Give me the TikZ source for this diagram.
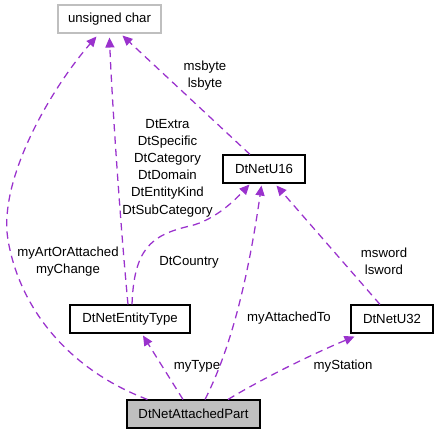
\documentclass[tikz,border=0pt]{standalone}
\usepackage{fontspec}
\setmainfont{Liberation Sans}
\usetikzlibrary{arrows.meta,calc}
\definecolor{edgecol}{RGB}{154,50,205}
\definecolor{boxgray}{RGB}{191,191,191}
\begin{document}
\begin{tikzpicture}[x=0.75pt,y=-0.75pt,
  every node/.style={font=\fontsize{9.9pt}{12.9pt}\selectfont, text=black},
  cls/.style={draw=black, line width=0.8pt, minimum height=21pt, inner sep=0pt, anchor=center},
  ext/.style={cls, draw=boxgray},
  cur/.style={cls, fill=boxgray},
  rel/.style={draw=edgecol, line width=0.95pt, dash pattern=on 5.5pt off 3.8pt,
    -{Triangle[length=7.5pt,width=6.8pt,fill=edgecol]}},
  lbl/.style={align=center, inner sep=0pt}
]
\useasboundingbox (0,0) rectangle (438,435);

\node[ext, minimum width=77.25pt] (uc) at (109.5,19) {unsigned char};
\node[cls, minimum width=61.5pt] (u16) at (264,169) {DtNetU16};
\node[cls, minimum width=90pt] (et) at (130,319) {DtNetEntityType};
\node[cls, minimum width=61.5pt] (u32) at (392,319) {DtNetU32};
\node[cur, minimum width=99.75pt] (ap) at (193.5,414) {DtNetAttachedPart};

\coordinate (ucA) at ($(uc.south west)+(39,3)$);
\coordinate (ucB) at ($(uc.south west)+(52,4)$);
\coordinate (ucC) at ($(uc.south west)+(65,2)$);
\coordinate (u16A) at ($(u16.south west)+(27,1)$);
\coordinate (u16B) at ($(u16.south west)+(39,2)$);
\coordinate (u16C) at ($(u16.south west)+(54,2)$);

% AttachedPart -> unsigned char
\draw[rel] ($(ap.north west)+(21,0)$) .. controls (70,370) and (20,310) .. (8,240)
  .. controls (-2,180) and (50,90) .. (ucA);
% EntityType -> unsigned char
\draw[rel] ($(et.north)+(-2,0)$) .. controls (120,220) and (112,100) .. (ucB);
% U16 -> unsigned char
\draw[rel] ($(u16.north)+(-14,0)$) -- (ucC);
% EntityType -> U16
\draw[rel] ($(et.north)+(2,0)$) .. controls (134,250) and (150,235) .. (190,226)
  .. controls (215,220) and (235,200) .. (u16A);
% AttachedPart -> U16
\draw[rel] ($(ap.north)+(11.5,0)$) .. controls (225,360) and (245,300) .. (u16B);
% U32 -> U16
\draw[rel] ($(u32.north)+(-12,0)$) -- (u16C);
% AttachedPart -> EntityType
\draw[rel] ($(ap.north)+(-10.5,0)$) -- ($(et.south)+(13,2)$);
% AttachedPart -> U32
\draw[rel] ($(ap.north)+(34.5,0)$) .. controls (260,380) and (310,355) .. ($(u32.south west)+(4,3)$);

\node[lbl] (l1) at (68,261.5) {myArtOrAttached\\myChange};
\node[lbl] (l2) at (167.5,168) {DtExtra\\DtSpecific\\DtCategory\\DtDomain\\DtEntityKind\\DtSubCategory};
\node[lbl] (l3) at (205,75.5) {msbyte\\lsbyte};
\node[lbl] (l4) at (189,262) {DtCountry};
\node[lbl] (l5) at (289,318) {myAttachedTo};
\node[lbl] (l6) at (384,261.5) {msword\\lsword};
\node[lbl] (l7) at (197,366) {myType};
\node[lbl] (l8) at (343,366) {myStation};
\end{tikzpicture}
\end{document}
